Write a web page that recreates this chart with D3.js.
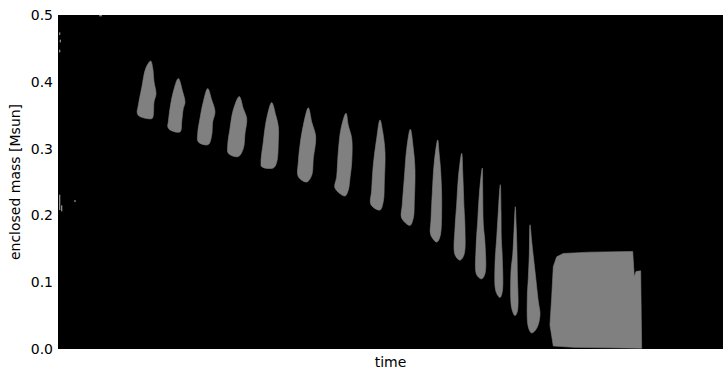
<!DOCTYPE html>
<html>
<head>
<meta charset="utf-8">
<script src="https://cdn.jsdelivr.net/npm/d3@7"></script>
<style>
  html, body { margin: 0; padding: 0; background: #fff; }
  svg { display: block; }
  text { font-family: "DejaVu Sans", sans-serif; fill: #000; }
</style>
</head>
<body>
<svg id="chart" width="723" height="371"></svg>
<script>
// ---- data (time in arbitrary units 0..100, enclosed mass in Msun) ----
const yTicks = [0.0, 0.1, 0.2, 0.3, 0.4, 0.5];
const timeDomain = [0, 100];
const massDomain = [0, 0.5];
const xLabel = "time";
const yLabel = "enclosed mass [Msun]";

// outlines of convective zones: [time, mass] pairs
const zone1 = [[11.92,0.353],[12.08,0.365],[12.59,0.391],[13.23,0.421],[13.94,0.431],[14.24,0.421],[14.44,0.400],[14.74,0.382],[14.44,0.370],[14.33,0.350],[14.14,0.345],[12.33,0.348]];
const zone2 = [[16.50,0.333],[16.59,0.340],[16.84,0.360],[17.34,0.385],[18.09,0.405],[18.75,0.385],[19.10,0.369],[18.84,0.360],[18.60,0.340],[18.35,0.325],[16.84,0.328]];
const zone3 = [[21.01,0.323],[21.10,0.310],[22.60,0.306],[23.11,0.320],[23.26,0.340],[23.61,0.355],[23.11,0.373],[22.51,0.390],[21.85,0.370],[21.35,0.345]];
const zone4 = [[25.52,0.305],[25.61,0.293],[27.11,0.288],[27.86,0.300],[28.12,0.323],[28.38,0.345],[27.86,0.360],[27.26,0.378],[26.36,0.358],[25.86,0.330]];
const zone5 = [[30.53,0.280],[30.63,0.273],[32.38,0.271],[32.89,0.280],[33.13,0.310],[33.13,0.333],[32.74,0.350],[32.14,0.369],[31.38,0.345],[30.87,0.310]];
const zone6 = [[36.14,0.280],[36.14,0.258],[37.40,0.250],[38.15,0.260],[38.39,0.285],[38.75,0.318],[38.15,0.340],[37.64,0.361],[36.89,0.335],[36.39,0.305]];
const zone7 = [[41.91,0.258],[41.65,0.241],[43.16,0.229],[43.65,0.238],[43.91,0.256],[44.17,0.280],[44.17,0.315],[43.65,0.335],[43.31,0.353],[42.56,0.330],[42.15,0.295]];
const zone8 = [[47.17,0.238],[47.07,0.216],[48.42,0.208],[48.92,0.221],[49.07,0.250],[49.17,0.295],[48.83,0.325],[48.42,0.343],[47.92,0.315],[47.41,0.275]];
const zone9 = [[51.77,0.216],[51.68,0.196],[52.93,0.185],[53.43,0.196],[53.58,0.221],[53.68,0.268],[53.43,0.300],[52.98,0.329],[52.44,0.300],[52.08,0.256]];
const zone10 = [[56.09,0.193],[56.05,0.171],[56.95,0.160],[57.44,0.168],[57.70,0.216],[57.55,0.265],[57.29,0.295],[57.10,0.313],[56.59,0.280],[56.29,0.235]];
const zone11 = [[59.70,0.181],[59.70,0.141],[60.45,0.133],[61.05,0.141],[61.20,0.181],[61.05,0.213],[60.86,0.265],[60.71,0.293],[60.20,0.256],[59.95,0.216]];
const zone12 = [[62.86,0.151],[62.96,0.111],[63.71,0.105],[64.21,0.113],[64.21,0.158],[63.96,0.186],[63.86,0.241],[63.80,0.271],[63.35,0.231],[63.11,0.191]];
const zone13 = [[65.71,0.126],[65.86,0.086],[66.47,0.077],[66.81,0.086],[66.81,0.136],[66.66,0.166],[66.62,0.206],[66.51,0.246],[66.21,0.206],[65.97,0.166]];
const zone14 = [[68.12,0.116],[68.23,0.061],[68.72,0.050],[69.07,0.056],[69.07,0.116],[68.98,0.161],[68.87,0.191],[68.77,0.213],[68.57,0.176],[68.38,0.141]];
const zone15 = [[70.57,0.076],[70.72,0.033],[71.23,0.024],[71.98,0.031],[72.48,0.051],[72.23,0.071],[71.73,0.116],[71.23,0.161],[70.98,0.186],[70.87,0.141],[70.72,0.106]];
const zone16 = [[74.48,0.123],[74.99,0.138],[75.98,0.143],[80.00,0.145],[86.42,0.146],[86.66,0.108],[86.92,0.116],[87.62,0.117],[87.77,0.001],[77.49,0.0025],[74.48,0.0045],[73.98,0.036],[74.24,0.078]];

const zones = [zone1, zone2, zone3, zone4, zone5, zone6, zone7, zone8, zone9, zone10,
               zone11, zone12, zone13, zone14, zone15];
const blocks = [zone16];

// tiny isolated specks: [time0, time1, mass0, mass1]
const specks = [[0.15,0.35,0.208,0.231],[0.45,0.65,0.206,0.215],[2.45,2.65,0.220,0.223],
                [0.15,0.35,0.470,0.474],[0.25,0.45,0.459,0.463],[0.15,0.35,0.444,0.448],[6.2,6.6,0.498,0.5]];

// ---- layout ----
const W = 723, H = 371;
const margin = { left: 58, right: 0, top: 15, bottom: 22 };
const svg = d3.select("#chart");

const x = d3.scaleLinear().domain(timeDomain).range([margin.left, W - margin.right]);
const y = d3.scaleLinear().domain(massDomain).range([H - margin.bottom, margin.top]);

// plot background
svg.append("rect")
  .attr("x", x(timeDomain[0])).attr("y", y(massDomain[1]))
  .attr("width", x(timeDomain[1]) - x(timeDomain[0]))
  .attr("height", y(massDomain[0]) - y(massDomain[1]))
  .attr("fill", "#000");

const smooth = d3.line().x(d => x(d[0])).y(d => y(d[1])).curve(d3.curveCatmullRomClosed.alpha(0.5));
const sharp = d3.line().x(d => x(d[0])).y(d => y(d[1])).curve(d3.curveLinearClosed);

svg.append("g").selectAll("path").data(zones).join("path")
  .attr("d", smooth)
  .attr("fill", "#808080")
  .attr("stroke", "#808080")
  .attr("stroke-width", 0.6)
  .attr("stroke-linejoin", "round");

svg.append("g").selectAll("path").data(blocks).join("path")
  .attr("d", sharp)
  .attr("fill", "#808080")
  .attr("stroke", "#808080")
  .attr("stroke-width", 0.6)
  .attr("stroke-linejoin", "round");

svg.append("g").selectAll("rect").data(specks).join("rect")
  .attr("x", d => x(d[0])).attr("y", d => y(d[3]))
  .attr("width", d => x(d[1]) - x(d[0]))
  .attr("height", d => y(d[2]) - y(d[3]))
  .attr("fill", "#8a8a8a");

// y axis
const yAxis = d3.axisLeft(y).tickValues(yTicks).tickFormat(d3.format(".1f")).tickSize(0).tickPadding(5);
const gy = svg.append("g").attr("transform", `translate(${margin.left},0)`).call(yAxis);
gy.select(".domain").remove();
gy.selectAll("text").attr("font-size", 14).style("font-family", "DejaVu Sans, sans-serif").attr("fill", "#000");

// axis labels
svg.append("text")
  .attr("x", (x(timeDomain[0]) + x(timeDomain[1])) / 2)
  .attr("y", H - 4)
  .attr("text-anchor", "middle")
  .attr("font-size", 14)
  .text(xLabel);

svg.append("text")
  .attr("transform", `translate(20,${(y(massDomain[0]) + y(massDomain[1])) / 2}) rotate(-90)`)
  .attr("text-anchor", "middle")
  .attr("font-size", 14)
  .text(yLabel);
</script>
</body>
</html>
